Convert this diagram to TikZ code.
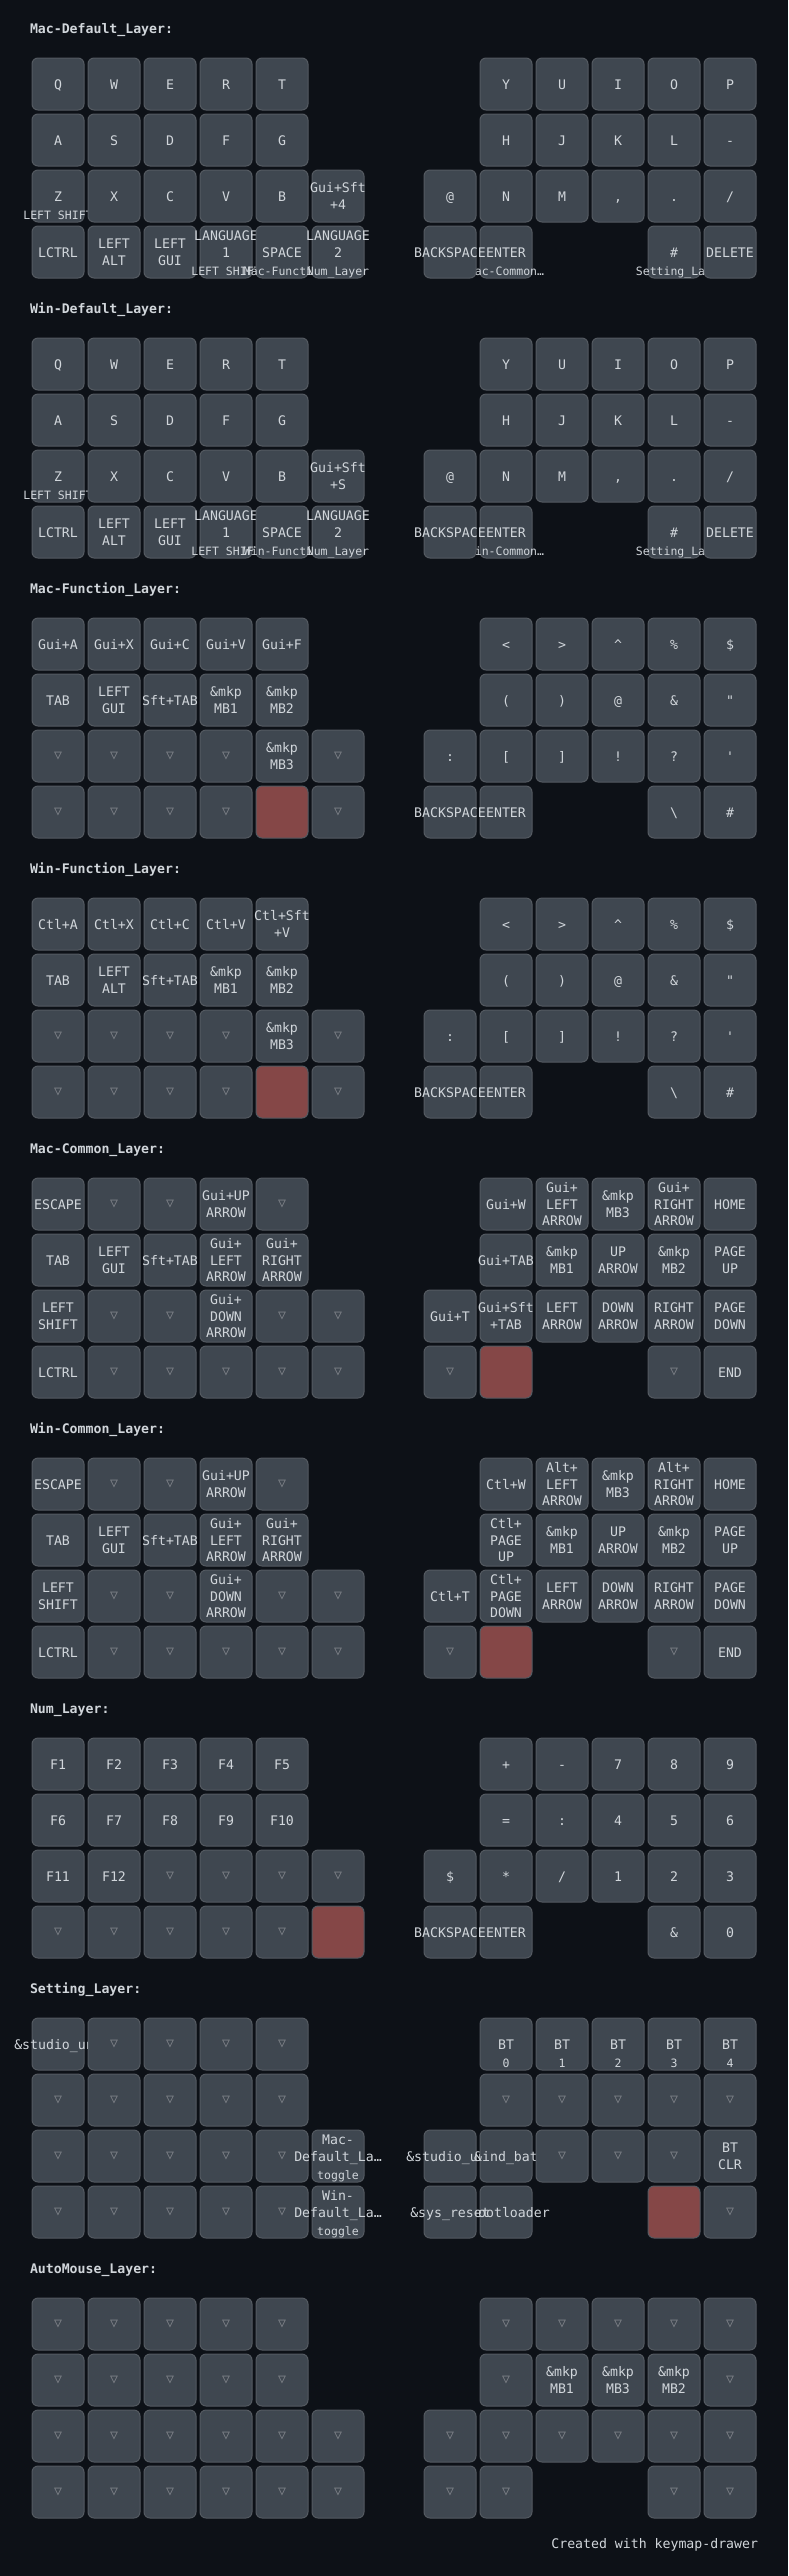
\documentclass[tikz,border=0pt]{standalone}
\usepackage{fontspec}
\setmonofont{DejaVu Sans Mono}
\definecolor{bgc}{HTML}{0D1117}
\definecolor{keyfill}{HTML}{3F4750}
\definecolor{keystroke}{HTML}{545A61}
\definecolor{heldfill}{HTML}{854747}
\definecolor{txt}{HTML}{D1D6DB}
\definecolor{transc}{HTML}{7E8288}
\tikzset{
  keyrect/.style={draw=keystroke, fill=keyfill, line width=1pt, rounded corners=6pt},
  heldrect/.style={draw=keystroke, fill=heldfill, line width=1pt, rounded corners=6pt},
  tap/.style={inner sep=0pt, outer sep=0pt, text=txt, font=\ttfamily\fontsize{13.2}{15}\selectfont, anchor=base},
  holdtxt/.style={inner sep=0pt, outer sep=0pt, text=txt, font=\ttfamily\fontsize{11.5}{13}\selectfont, anchor=base},
  transtxt/.style={inner sep=0pt, outer sep=0pt, text=transc, font=\ttfamily\fontsize{13.2}{15}\selectfont, anchor=center},
  layertitle/.style={inner sep=0pt, outer sep=0pt, text=txt, font=\ttfamily\bfseries\fontsize{13.2}{15}\selectfont, anchor=base west},
  credit/.style={inner sep=0pt, outer sep=0pt, text=txt, font=\ttfamily\fontsize{13.2}{15}\selectfont, anchor=base east},
}
\newcommand\setk[2]{\pgfmathsetmacro\cx{58+56*#1}\pgfmathsetmacro\cy{84+56*#2+280*\LY}\edef\kn{L\LY c#1r#2}}
\newcommand\rk{\draw[keyrect] (\cx-26,\cy-26) rectangle (\cx+26,\cy+26);}
\newcommand\kline[3]{\node[tap] (\kn#1) at (\cx,\cy+#2) {#3};}
\newcommand\khold[1]{\node[holdtxt] (\kn h) at (\cx,\cy+23.7) {#1};}
\newcommand\KA[3]{\setk{#1}{#2}\rk\kline{a}{5.2}{#3}}
\newcommand\KAh[4]{\KA{#1}{#2}{#3}\khold{#4}}
\newcommand\KB[4]{\setk{#1}{#2}\rk\kline{a}{-3.1}{#3}\kline{b}{13.5}{#4}}
\newcommand\KBh[5]{\setk{#1}{#2}\rk\kline{a}{-11.4}{#3}\kline{b}{5.2}{#4}\khold{#5}}
\newcommand\KC[5]{\setk{#1}{#2}\rk\kline{a}{-11.4}{#3}\kline{b}{5.2}{#4}\kline{c}{21.8}{#5}}
\newcommand\KT[2]{\setk{#1}{#2}\rk\node[transtxt] (\kn t) at (\cx,\cy) {▽};}
\newcommand\KH[2]{\setk{#1}{#2}\draw[heldrect] (\cx-26,\cy-26) rectangle (\cx+26,\cy+26);}
\newcommand\ltitle[1]{\node[layertitle] (title\LY) at (30,33.3+280*\LY) {#1};}
\begin{document}
\begin{tikzpicture}[x=1pt,y=-1pt]
\fill[bgc] (0,0) rectangle (788,2576);
\useasboundingbox (0,0) rectangle (788,2576);
% ---------------- Layer 0
\def\LY{0}
\ltitle{Mac-Default\_Layer:}
\KA{0}{0}{Q}\KA{1}{0}{W}\KA{2}{0}{E}\KA{3}{0}{R}\KA{4}{0}{T}
\KA{8}{0}{Y}\KA{9}{0}{U}\KA{10}{0}{I}\KA{11}{0}{O}\KA{12}{0}{P}
\KA{0}{1}{A}\KA{1}{1}{S}\KA{2}{1}{D}\KA{3}{1}{F}\KA{4}{1}{G}
\KA{8}{1}{H}\KA{9}{1}{J}\KA{10}{1}{K}\KA{11}{1}{L}\KA{12}{1}{-}
\KAh{0}{2}{Z}{LEFT SHIFT}\KA{1}{2}{X}\KA{2}{2}{C}\KA{3}{2}{V}\KA{4}{2}{B}\KB{5}{2}{Gui+Sft}{+4}
\KA{7}{2}{@}\KA{8}{2}{N}\KA{9}{2}{M}\KA{10}{2}{,}\KA{11}{2}{.}\KA{12}{2}{/}
\KA{0}{3}{LCTRL}\KB{1}{3}{LEFT}{ALT}\KB{2}{3}{LEFT}{GUI}\KBh{3}{3}{LANGUAGE}{1}{LEFT SHIFT}\KAh{4}{3}{SPACE}{Mac-Functi…}\KBh{5}{3}{LANGUAGE}{2}{Num\_Layer}
\KAh{8}{3}{ENTER}{Mac-Common…}\KA{7}{3}{BACKSPACE}\KAh{11}{3}{\#}{Setting\_La…}\KA{12}{3}{DELETE}
% ---------------- Layer 1
\def\LY{1}
\ltitle{Win-Default\_Layer:}
\KA{0}{0}{Q}\KA{1}{0}{W}\KA{2}{0}{E}\KA{3}{0}{R}\KA{4}{0}{T}
\KA{8}{0}{Y}\KA{9}{0}{U}\KA{10}{0}{I}\KA{11}{0}{O}\KA{12}{0}{P}
\KA{0}{1}{A}\KA{1}{1}{S}\KA{2}{1}{D}\KA{3}{1}{F}\KA{4}{1}{G}
\KA{8}{1}{H}\KA{9}{1}{J}\KA{10}{1}{K}\KA{11}{1}{L}\KA{12}{1}{-}
\KAh{0}{2}{Z}{LEFT SHIFT}\KA{1}{2}{X}\KA{2}{2}{C}\KA{3}{2}{V}\KA{4}{2}{B}\KB{5}{2}{Gui+Sft}{+S}
\KA{7}{2}{@}\KA{8}{2}{N}\KA{9}{2}{M}\KA{10}{2}{,}\KA{11}{2}{.}\KA{12}{2}{/}
\KA{0}{3}{LCTRL}\KB{1}{3}{LEFT}{ALT}\KB{2}{3}{LEFT}{GUI}\KBh{3}{3}{LANGUAGE}{1}{LEFT SHIFT}\KAh{4}{3}{SPACE}{Win-Functi…}\KBh{5}{3}{LANGUAGE}{2}{Num\_Layer}
\KAh{8}{3}{ENTER}{Win-Common…}\KA{7}{3}{BACKSPACE}\KAh{11}{3}{\#}{Setting\_La…}\KA{12}{3}{DELETE}
% ---------------- Layer 2
\def\LY{2}
\ltitle{Mac-Function\_Layer:}
\KA{0}{0}{Gui+A}\KA{1}{0}{Gui+X}\KA{2}{0}{Gui+C}\KA{3}{0}{Gui+V}\KA{4}{0}{Gui+F}
\KA{8}{0}{<}\KA{9}{0}{>}\KA{10}{0}{\textasciicircum}\KA{11}{0}{\%}\KA{12}{0}{\$}
\KA{0}{1}{TAB}\KB{1}{1}{LEFT}{GUI}\KA{2}{1}{Sft+TAB}\KB{3}{1}{\&mkp}{MB1}\KB{4}{1}{\&mkp}{MB2}
\KA{8}{1}{(}\KA{9}{1}{)}\KA{10}{1}{@}\KA{11}{1}{\&}\KA{12}{1}{"}
\KT{0}{2}\KT{1}{2}\KT{2}{2}\KT{3}{2}\KB{4}{2}{\&mkp}{MB3}\KT{5}{2}
\KA{7}{2}{:}\KA{8}{2}{[}\KA{9}{2}{]}\KA{10}{2}{!}\KA{11}{2}{?}\KA{12}{2}{'}
\KT{0}{3}\KT{1}{3}\KT{2}{3}\KT{3}{3}\KH{4}{3}\KT{5}{3}
\KA{8}{3}{ENTER}\KA{7}{3}{BACKSPACE}\KA{11}{3}{\textbackslash}\KA{12}{3}{\#}
% ---------------- Layer 3
\def\LY{3}
\ltitle{Win-Function\_Layer:}
\KA{0}{0}{Ctl+A}\KA{1}{0}{Ctl+X}\KA{2}{0}{Ctl+C}\KA{3}{0}{Ctl+V}\KB{4}{0}{Ctl+Sft}{+V}
\KA{8}{0}{<}\KA{9}{0}{>}\KA{10}{0}{\textasciicircum}\KA{11}{0}{\%}\KA{12}{0}{\$}
\KA{0}{1}{TAB}\KB{1}{1}{LEFT}{ALT}\KA{2}{1}{Sft+TAB}\KB{3}{1}{\&mkp}{MB1}\KB{4}{1}{\&mkp}{MB2}
\KA{8}{1}{(}\KA{9}{1}{)}\KA{10}{1}{@}\KA{11}{1}{\&}\KA{12}{1}{"}
\KT{0}{2}\KT{1}{2}\KT{2}{2}\KT{3}{2}\KB{4}{2}{\&mkp}{MB3}\KT{5}{2}
\KA{7}{2}{:}\KA{8}{2}{[}\KA{9}{2}{]}\KA{10}{2}{!}\KA{11}{2}{?}\KA{12}{2}{'}
\KT{0}{3}\KT{1}{3}\KT{2}{3}\KT{3}{3}\KH{4}{3}\KT{5}{3}
\KA{8}{3}{ENTER}\KA{7}{3}{BACKSPACE}\KA{11}{3}{\textbackslash}\KA{12}{3}{\#}
% ---------------- Layer 4
\def\LY{4}
\ltitle{Mac-Common\_Layer:}
\KA{0}{0}{ESCAPE}\KT{1}{0}\KT{2}{0}\KB{3}{0}{Gui+UP}{ARROW}\KT{4}{0}
\KA{8}{0}{Gui+W}\KC{9}{0}{Gui+}{LEFT}{ARROW}\KB{10}{0}{\&mkp}{MB3}\KC{11}{0}{Gui+}{RIGHT}{ARROW}\KA{12}{0}{HOME}
\KA{0}{1}{TAB}\KB{1}{1}{LEFT}{GUI}\KA{2}{1}{Sft+TAB}\KC{3}{1}{Gui+}{LEFT}{ARROW}\KC{4}{1}{Gui+}{RIGHT}{ARROW}
\KA{8}{1}{Gui+TAB}\KB{9}{1}{\&mkp}{MB1}\KB{10}{1}{UP}{ARROW}\KB{11}{1}{\&mkp}{MB2}\KB{12}{1}{PAGE}{UP}
\KB{0}{2}{LEFT}{SHIFT}\KT{1}{2}\KT{2}{2}\KC{3}{2}{Gui+}{DOWN}{ARROW}\KT{4}{2}\KT{5}{2}
\KA{7}{2}{Gui+T}\KB{8}{2}{Gui+Sft}{+TAB}\KB{9}{2}{LEFT}{ARROW}\KB{10}{2}{DOWN}{ARROW}\KB{11}{2}{RIGHT}{ARROW}\KB{12}{2}{PAGE}{DOWN}
\KA{0}{3}{LCTRL}\KT{1}{3}\KT{2}{3}\KT{3}{3}\KT{4}{3}\KT{5}{3}
\KH{8}{3}\KT{7}{3}\KT{11}{3}\KA{12}{3}{END}
% ---------------- Layer 5
\def\LY{5}
\ltitle{Win-Common\_Layer:}
\KA{0}{0}{ESCAPE}\KT{1}{0}\KT{2}{0}\KB{3}{0}{Gui+UP}{ARROW}\KT{4}{0}
\KA{8}{0}{Ctl+W}\KC{9}{0}{Alt+}{LEFT}{ARROW}\KB{10}{0}{\&mkp}{MB3}\KC{11}{0}{Alt+}{RIGHT}{ARROW}\KA{12}{0}{HOME}
\KA{0}{1}{TAB}\KB{1}{1}{LEFT}{GUI}\KA{2}{1}{Sft+TAB}\KC{3}{1}{Gui+}{LEFT}{ARROW}\KC{4}{1}{Gui+}{RIGHT}{ARROW}
\KC{8}{1}{Ctl+}{PAGE}{UP}\KB{9}{1}{\&mkp}{MB1}\KB{10}{1}{UP}{ARROW}\KB{11}{1}{\&mkp}{MB2}\KB{12}{1}{PAGE}{UP}
\KB{0}{2}{LEFT}{SHIFT}\KT{1}{2}\KT{2}{2}\KC{3}{2}{Gui+}{DOWN}{ARROW}\KT{4}{2}\KT{5}{2}
\KA{7}{2}{Ctl+T}\KC{8}{2}{Ctl+}{PAGE}{DOWN}\KB{9}{2}{LEFT}{ARROW}\KB{10}{2}{DOWN}{ARROW}\KB{11}{2}{RIGHT}{ARROW}\KB{12}{2}{PAGE}{DOWN}
\KA{0}{3}{LCTRL}\KT{1}{3}\KT{2}{3}\KT{3}{3}\KT{4}{3}\KT{5}{3}
\KH{8}{3}\KT{7}{3}\KT{11}{3}\KA{12}{3}{END}
% ---------------- Layer 6
\def\LY{6}
\ltitle{Num\_Layer:}
\KA{0}{0}{F1}\KA{1}{0}{F2}\KA{2}{0}{F3}\KA{3}{0}{F4}\KA{4}{0}{F5}
\KA{8}{0}{+}\KA{9}{0}{-}\KA{10}{0}{7}\KA{11}{0}{8}\KA{12}{0}{9}
\KA{0}{1}{F6}\KA{1}{1}{F7}\KA{2}{1}{F8}\KA{3}{1}{F9}\KA{4}{1}{F10}
\KA{8}{1}{=}\KA{9}{1}{:}\KA{10}{1}{4}\KA{11}{1}{5}\KA{12}{1}{6}
\KA{0}{2}{F11}\KA{1}{2}{F12}\KT{2}{2}\KT{3}{2}\KT{4}{2}\KT{5}{2}
\KA{7}{2}{\$}\KA{8}{2}{*}\KA{9}{2}{/}\KA{10}{2}{1}\KA{11}{2}{2}\KA{12}{2}{3}
\KT{0}{3}\KT{1}{3}\KT{2}{3}\KT{3}{3}\KT{4}{3}\KH{5}{3}
\KA{8}{3}{ENTER}\KA{7}{3}{BACKSPACE}\KA{11}{3}{\&}\KA{12}{3}{0}
% ---------------- Layer 7
\def\LY{7}
\ltitle{Setting\_Layer:}
\KA{0}{0}{\&studio\_un…}\KT{1}{0}\KT{2}{0}\KT{3}{0}\KT{4}{0}
\KAh{8}{0}{BT}{0}\KAh{9}{0}{BT}{1}\KAh{10}{0}{BT}{2}\KAh{11}{0}{BT}{3}\KAh{12}{0}{BT}{4}
\KT{0}{1}\KT{1}{1}\KT{2}{1}\KT{3}{1}\KT{4}{1}
\KT{8}{1}\KT{9}{1}\KT{10}{1}\KT{11}{1}\KT{12}{1}
\KT{0}{2}\KT{1}{2}\KT{2}{2}\KT{3}{2}\KT{4}{2}\KBh{5}{2}{Mac-}{Default\_La…}{toggle}
\KA{7}{2}{\&studio\_un…}\KA{8}{2}{\&ind\_bat}\KT{9}{2}\KT{10}{2}\KT{11}{2}\KB{12}{2}{BT}{CLR}
\KT{0}{3}\KT{1}{3}\KT{2}{3}\KT{3}{3}\KT{4}{3}\KBh{5}{3}{Win-}{Default\_La…}{toggle}
\KA{8}{3}{\&bootloader}\KA{7}{3}{\&sys\_reset}\KH{11}{3}\KT{12}{3}
% ---------------- Layer 8
\def\LY{8}
\ltitle{AutoMouse\_Layer:}
\KT{0}{0}\KT{1}{0}\KT{2}{0}\KT{3}{0}\KT{4}{0}
\KT{8}{0}\KT{9}{0}\KT{10}{0}\KT{11}{0}\KT{12}{0}
\KT{0}{1}\KT{1}{1}\KT{2}{1}\KT{3}{1}\KT{4}{1}
\KT{8}{1}\KB{9}{1}{\&mkp}{MB1}\KB{10}{1}{\&mkp}{MB3}\KB{11}{1}{\&mkp}{MB2}\KT{12}{1}
\KT{0}{2}\KT{1}{2}\KT{2}{2}\KT{3}{2}\KT{4}{2}\KT{5}{2}
\KT{7}{2}\KT{8}{2}\KT{9}{2}\KT{10}{2}\KT{11}{2}\KT{12}{2}
\KT{0}{3}\KT{1}{3}\KT{2}{3}\KT{3}{3}\KT{4}{3}\KT{5}{3}
\KT{8}{3}\KT{7}{3}\KT{11}{3}\KT{12}{3}
% credit
\node[credit] (creditnote) at (758,2548) {Created with keymap-drawer};
\end{tikzpicture}
\end{document}
